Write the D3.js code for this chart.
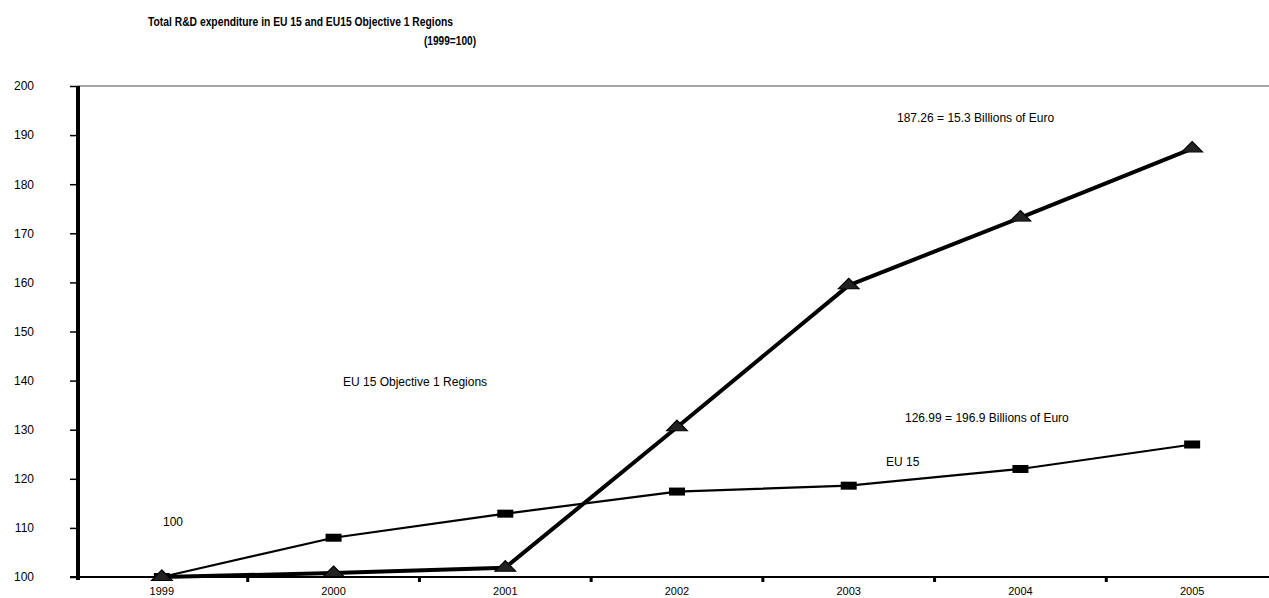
<!DOCTYPE html>
<html>
<head>
<meta charset="utf-8">
<script src="https://cdn.jsdelivr.net/npm/d3@7"></script>
<style>
  html, body { margin: 0; padding: 0; background: #fff; }
  svg { display: block; font-family: "Liberation Sans", Arial, sans-serif; }
  text { fill: #000; }
</style>
</head>
<body>
<svg id="chart" width="1269" height="598"></svg>
<script>
// Index values, 1999 = 100
const years = ["1999", "2000", "2001", "2002", "2003", "2004", "2005"];
const eu15 = [100, 108.0, 112.9, 117.4, 118.6, 122.0, 126.99];
const objective1 = [100, 100.8, 101.9, 130.5, 159.4, 173.2, 187.26];
const yTicks = [100, 110, 120, 130, 140, 150, 160, 170, 180, 190, 200];

const svg = d3.select("#chart");
const W = 1269, H = 598;

const x = d3.scaleBand().domain(years).range([76, 1278]).padding(0);
const y = d3.scaleLinear().domain([100, 200]).range([577, 86]);
const cx = d => x(d) + x.bandwidth() / 2;

// Title
svg.append("text")
  .attr("x", 148).attr("y", 26)
  .attr("font-size", 12).attr("font-weight", "bold")
  .attr("textLength", 305).attr("lengthAdjust", "spacingAndGlyphs")
  .text("Total R&D expenditure in EU 15 and EU15 Objective 1 Regions");
svg.append("text")
  .attr("x", 424).attr("y", 45)
  .attr("font-size", 12).attr("font-weight", "bold")
  .attr("textLength", 52).attr("lengthAdjust", "spacingAndGlyphs")
  .text("(1999=100)");

// Plot area top border
svg.append("line")
  .attr("x1", 78).attr("x2", W)
  .attr("y1", y(200)).attr("y2", y(200))
  .attr("stroke", "#8a8a8a").attr("stroke-width", 1.5);

// Y axis
const yAxis = svg.append("g").attr("transform", "translate(78,0)")
  .call(d3.axisLeft(y).tickValues(yTicks).tickSize(8));
yAxis.select(".domain").remove();
yAxis.selectAll(".tick line").attr("stroke", "#000").attr("stroke-width", 1.5);
yAxis.selectAll(".tick text")
  .attr("x", -44).attr("font-size", 12)
  .attr("font-family", "Liberation Sans, Arial, sans-serif")
  .attr("fill", "#000");
svg.append("line")
  .attr("x1", 78).attr("x2", 78)
  .attr("y1", y(200)).attr("y2", y(100) + 3)
  .attr("stroke", "#000").attr("stroke-width", 4);

// X axis
svg.append("line")
  .attr("x1", 70).attr("x2", W)
  .attr("y1", y(100)).attr("y2", y(100))
  .attr("stroke", "#000").attr("stroke-width", 2);
svg.append("g").selectAll("rect")
  .data(years.slice(1))
  .join("rect")
  .attr("x", d => x(d) - 1.5).attr("y", y(100))
  .attr("width", 3).attr("height", 5)
  .attr("fill", "#000");
svg.append("g").selectAll("text")
  .data(years)
  .join("text")
  .attr("x", d => cx(d)).attr("y", 595)
  .attr("text-anchor", "middle").attr("font-size", 11)
  .text(d => d);

// Series lines
const line = d3.line().x((d, i) => cx(years[i])).y(d => y(d));

svg.append("path")
  .datum(eu15)
  .attr("d", line)
  .attr("fill", "none").attr("stroke", "#000").attr("stroke-width", 2.2)
  .attr("stroke-linejoin", "round");

svg.append("path")
  .datum(objective1)
  .attr("d", line)
  .attr("fill", "none").attr("stroke", "#000").attr("stroke-width", 4)
  .attr("stroke-linejoin", "round");

// Square markers (EU 15)
svg.append("g").selectAll("rect")
  .data(eu15)
  .join("rect")
  .attr("x", (d, i) => cx(years[i]) - 8)
  .attr("y", d => y(d) - 4)
  .attr("width", 16).attr("height", 8)
  .attr("fill", "#000");

// Triangle markers (Objective 1 regions)
const tri = d3.symbol().type(d3.symbolTriangle).size(90);
svg.append("g").selectAll("path")
  .data(objective1)
  .join("path")
  .attr("transform", (d, i) => `translate(${cx(years[i])},${y(d)}) scale(1.45,0.85)`)
  .attr("d", tri)
  .attr("fill", "#222").attr("stroke", "#000").attr("stroke-width", 1);

// Annotations
const notes = [
  { text: "187.26 = 15.3 Billions of Euro", x: 897, y: 122 },
  { text: "EU 15 Objective 1 Regions", x: 343, y: 386 },
  { text: "126.99 = 196.9 Billions of Euro", x: 905, y: 422 },
  { text: "EU 15", x: 886, y: 466 },
  { text: "100", x: 163, y: 526 }
];
svg.append("g").selectAll("text")
  .data(notes)
  .join("text")
  .attr("x", d => d.x).attr("y", d => d.y)
  .attr("font-size", 12).attr("fill", "#000")
  .text(d => d.text);
</script>
</body>
</html>
